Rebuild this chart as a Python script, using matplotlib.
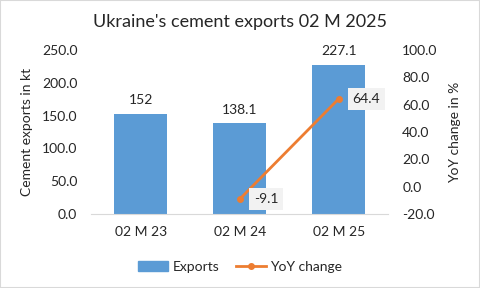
import matplotlib
matplotlib.use("Agg")
import matplotlib.pyplot as plt
from matplotlib.lines import Line2D
from matplotlib.patches import Patch, Rectangle

categories = ["02 M 23", "02 M 24", "02 M 25"]
exports = [152.0, 138.1, 227.1]
export_labels = ["152", "138.1", "227.1"]
yoy_cats = [1, 2]
yoy = [-9.1, 64.4]
yoy_labels = ["-9.1", "64.4"]
left_ticks = [0, 50, 100, 150, 200, 250]
right_ticks = [-20, 0, 20, 40, 60, 80, 100]

plt.rcParams['font.family'] = ['Lato', 'DejaVu Sans']
TXT = '#262626'
BLUE = '#5B9BD5'
ORANGE = '#ED7D31'

fig = plt.figure(figsize=(4.8, 2.88), dpi=100)
ax = fig.add_axes([0.19, 0.257, 0.619, 0.569])
ax2 = ax.twinx()

x = list(range(len(categories)))
ax.bar(x, exports, width=0.535, color=BLUE, zorder=2)
ax.set_xlim(-0.5, 2.5)
ax.set_ylim(0, 250)
ax.set_yticks(left_ticks)
ax.set_yticklabels([f"{v:.1f}" for v in left_ticks])
ax.set_xticks(x)
ax.set_xticklabels(categories)
for i, (v, lab) in enumerate(zip(exports, export_labels)):
    ax.annotate(lab, (i, v), xytext=(0, 10), textcoords='offset points',
                ha='center', va='center', fontsize=10, color=TXT)

ax2.plot(yoy_cats, yoy, color=ORANGE, lw=2, marker='o', ms=4, zorder=3)
ax2.set_ylim(-20, 100)
ax2.set_yticks(right_ticks)
ax2.set_yticklabels([f"{v:.1f}" for v in right_ticks])
for c, v, lab in zip(yoy_cats, yoy, yoy_labels):
    ax2.annotate(lab, (c, v), xytext=(10, 0), textcoords='offset points',
                 ha='left', va='center', fontsize=10, color=TXT,
                 bbox=dict(boxstyle='square,pad=0.35', fc='#F2F2F2', ec='none'))

for a in (ax, ax2):
    for s in ['top', 'right', 'left']:
        a.spines[s].set_visible(False)
    a.spines['bottom'].set_color('#D9D9D9')
    a.tick_params(length=0, labelsize=10, colors=TXT)
ax2.spines['bottom'].set_visible(False)
ax.tick_params(axis='y', pad=10)
ax2.tick_params(axis='y', pad=10)
ax.tick_params(axis='x', pad=9)

ax.set_ylabel("Cement exports in kt", fontsize=10, color=TXT, labelpad=6)
ax2.set_ylabel("YoY change in %", fontsize=10, color=TXT, labelpad=8)

fig.text(0.5, 0.925, "Ukraine's cement exports 02 M 2025", ha='center', va='center',
         fontsize=13, color=TXT)

handles = [Patch(color=BLUE), Line2D([0], [0], color=ORANGE, lw=2, marker='o', ms=4)]
fig.legend(handles, ["Exports", "YoY change"], loc='center', bbox_to_anchor=(0.5, 0.073),
           ncol=2, frameon=False, fontsize=10, handlelength=2.2, handletextpad=0.3,
           columnspacing=1.2, labelcolor=TXT)

fig.patches.append(Rectangle((0, 0), 1, 1, transform=fig.transFigure, fill=False,
                             ec='#D9D9D9', lw=1.5))
fig.savefig("out.png", dpi=100)
